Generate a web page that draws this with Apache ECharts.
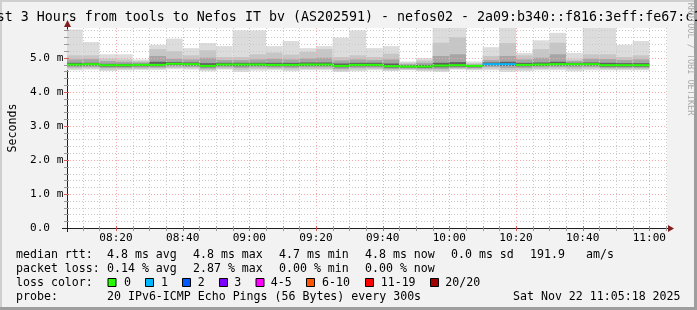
<!DOCTYPE html>
<html><head><meta charset="utf-8">
<script src="https://cdn.jsdelivr.net/npm/echarts@6/dist/echarts.min.js"></script>
<style>html,body{margin:0;padding:0;background:#f2f2f2}#c{width:697px;height:310px}</style>
</head><body><div id="c"></div>
<script>
// ---- data ----
const titleText = "Last 3 Hours from tools to Nefos IT bv (AS202591) - nefos02 - 2a09:b340::f816:3eff:fe67:c1";
const axisStart = "08:05:18", axisEnd = "11:05:18";
const slotEnds = ["08:10","08:15","08:20","08:25","08:30","08:35","08:40","08:45","08:50","08:55",
  "09:00","09:05","09:10","09:15","09:20","09:25","09:30","09:35","09:40","09:45",
  "09:50","09:55","10:00","10:05","10:10","10:15","10:20","10:25","10:30","10:35",
  "10:40","10:45","10:50","10:55","11:00"];
const maxV = [5.83,5.46,5.10,5.10,4.95,5.38,5.56,5.28,5.43,5.34,5.80,5.80,5.34,5.49,5.28,5.34,5.59,5.80,5.28,5.34,4.89,4.99,6.00,6.00,4.89,5.31,6.00,5.14,5.51,5.73,5.14,6.00,6.00,5.38,5.49];
const p18  = [5.07,5.07,4.97,4.95,4.90,5.25,5.19,5.07,5.22,5.02,5.02,5.10,5.15,5.09,5.17,5.25,5.02,5.07,5.02,5.12,4.85,4.92,5.44,5.60,4.84,5.05,5.43,5.07,5.25,5.44,4.95,5.10,5.10,5.02,5.07];
const p15  = [4.95,4.96,4.90,4.88,4.86,5.05,4.97,4.95,5.00,4.93,4.93,4.95,4.97,4.95,4.98,5.00,4.92,4.95,4.93,4.95,4.81,4.85,5.05,5.10,4.80,4.93,5.05,4.95,5.00,5.10,4.90,4.97,4.96,4.93,4.95];
const p12  = [4.85,4.85,4.82,4.82,4.82,4.88,4.87,4.86,4.84,4.85,4.85,4.85,4.85,4.85,4.86,4.86,4.83,4.85,4.85,4.83,4.78,4.79,4.85,4.87,4.78,4.86,4.88,4.85,4.86,4.88,4.85,4.86,4.85,4.84,4.84];
const medV = [4.80,4.81,4.78,4.78,4.79,4.79,4.82,4.81,4.76,4.80,4.80,4.80,4.79,4.79,4.80,4.80,4.76,4.79,4.79,4.75,4.74,4.74,4.77,4.78,4.76,4.81,4.81,4.79,4.80,4.81,4.81,4.81,4.78,4.78,4.78];
const p9   = [4.76,4.77,4.74,4.74,4.75,4.75,4.78,4.77,4.72,4.76,4.75,4.76,4.75,4.75,4.76,4.76,4.72,4.75,4.75,4.71,4.71,4.70,4.72,4.74,4.72,4.77,4.76,4.75,4.76,4.77,4.77,4.77,4.74,4.74,4.74];
const p6   = [4.72,4.73,4.70,4.70,4.71,4.71,4.74,4.73,4.68,4.72,4.70,4.72,4.71,4.70,4.72,4.72,4.67,4.70,4.71,4.67,4.68,4.67,4.67,4.70,4.69,4.73,4.70,4.70,4.72,4.73,4.72,4.73,4.70,4.70,4.70];
const p3   = [4.68,4.69,4.65,4.66,4.67,4.68,4.70,4.69,4.64,4.68,4.64,4.67,4.67,4.65,4.67,4.67,4.62,4.65,4.67,4.63,4.65,4.63,4.62,4.66,4.66,4.68,4.64,4.65,4.67,4.68,4.66,4.68,4.66,4.66,4.66];
const minV = [4.63,4.65,4.61,4.63,4.64,4.64,4.66,4.65,4.60,4.65,4.58,4.62,4.63,4.60,4.63,4.63,4.58,4.60,4.63,4.61,4.63,4.60,4.58,4.66,4.63,4.63,4.58,4.60,4.63,4.63,4.60,4.63,4.63,4.63,4.63];
const lossCount = [0,0,0,0,0,0,0,0,0,0,0,0,0,0,0,0,0,0,0,0,0,0,0,0,0,1,1,0,0,0,0,0,0,0,0];
const xTickLabels = ["08:20","08:40","09:00","09:20","09:40","10:00","10:20","10:40","11:00"];
const yTickValues = [0,1,2,3,4,5];
const yTickLabels = ["0.0","1.0 m","2.0 m","3.0 m","4.0 m","5.0 m"];
const lossNames  = ["0","1","2","3","4-5","6-10","11-19","20/20"];
const lossColors = ["#26ff00","#00b8ff","#0059ff","#7e00ff","#ff00ff","#ff5500","#ff0000","#a10000"];
const statLine1 = ["median rtt:","4.8 ms avg","4.8 ms max","4.7 ms min","4.8 ms now","0.0 ms sd","191.9","am/s"];
const statLine2 = ["packet loss:","0.14 % avg","2.87 % max","0.00 % min","0.00 % now"];
const lossLabel = "loss color:";
const probeLine = ["probe:","20 IPv6-ICMP Echo Pings (56 Bytes) every 300s","Sat Nov 22 11:05:18 2025"];
const yAxisName = "Seconds";
const watermark = "RRDTOOL / TOBI OETIKER";

// ---- layout / style ----
const MONO = '"DejaVu Sans Mono"';
const statX1 = [16,107,193,279,365,451,530,586];
const statX2 = [16,107,193,279,365];
const boxX = [108,145.5,182.5,219.5,256,306.5,365.5,430.5];
const boxLabelX = [124,161,197.7,234.3,270.7,322,380.7,445.3];
const probeX = [16,107,513];

function toMin(s){const p=s.split(':').map(Number);return p[0]*60+p[1]+(p[2]||0)/60;}
const xMin = toMin(axisStart), xMax = toMin(axisEnd);
const xTickMins = xTickLabels.map(toMin);
const slotData = slotEnds.map((t,i)=>{const e=toMin(t);return [e-5,e,maxV[i],p18[i],p15[i],p12[i],medV[i],p9[i],p6[i],p3[i],minV[i],lossCount[i]];});
function lossColor(n){ if(n<=0) return lossColors[0]; if(n<=1) return lossColors[1]; if(n<=2) return lossColors[2]; if(n<=3) return lossColors[3]; if(n<=5) return lossColors[4]; if(n<=10) return lossColors[5]; if(n<=19) return lossColors[6]; return lossColors[7]; }

// grid line positions
const vLines = [];
for (let m = Math.ceil(xMin/5)*5; m < xMax; m += 5) vLines.push([m, (m % 20 === 0) ? 1 : 0]);
const hLines = [];
for (let k = 1; k * 0.2 < 5.87; k++) { const v = +(k*0.2).toFixed(1); hLines.push([v, (k % 5 === 0) ? 1 : 0]); }

const bandDefs = [[2,10,'#dcdcdc'],[3,9,'#c6c6c6'],[4,8,'#a6a6a6'],[5,7,'#606060']];
const GRID_MINOR = '#cacaca', GRID_MAJOR = '#f2a8a8';

function renderSmoke(params, api){
  const cs = params.coordSys;
  const s = api.value(0), e = api.value(1);
  let x0 = api.coord([s,0])[0], x1 = api.coord([e,0])[0];
  x0 = Math.max(x0, cs.x); x1 = Math.min(x1, cs.x + cs.width);
  const Y = v => Math.max(cs.y, api.coord([s, v])[1]);
  const children = bandDefs.map(b => {
    const yt = Y(api.value(b[0])), yb = Y(api.value(b[1]));
    return {type:'rect', shape:{x:x0, y:yt, width:x1-x0, height:yb-yt}, style:{fill:b[2]}};
  });
  return {type:'group', children};
}
function renderMedian(params, api){
  const cs = params.coordSys;
  const s = api.value(0), e = api.value(1);
  let x0 = api.coord([s,0])[0], x1 = api.coord([e,0])[0];
  x0 = Math.max(x0, cs.x); x1 = Math.min(x1, cs.x + cs.width);
  const ym = api.coord([s, api.value(6)])[1];
  return {type:'rect', shape:{x:x0, y:ym-1, width:x1-x0, height:2}, style:{fill:lossColor(api.value(11))}};
}
function renderV(params, api){
  const cs = params.coordSys;
  const x = Math.round(api.coord([api.value(0),0])[0]) + 0.5;
  const major = api.value(1) === 1;
  const b = cs.y + cs.height;
  return {type:'group', children:[
    {type:'line', shape:{x1:x,y1:cs.y,x2:x,y2:b}, style:{stroke: major?GRID_MAJOR:GRID_MINOR, lineWidth:1, lineDash:[1,2]}},
    {type:'line', shape:{x1:x,y1:b-2,x2:x,y2:b+3}, style:{stroke: major?'#d45a5a':'#999', lineWidth:1}}
  ]};
}
function renderH(params, api){
  const cs = params.coordSys;
  const y = Math.round(api.coord([xMin, api.value(0)])[1]) + 0.5;
  const major = api.value(1) === 1;
  return {type:'group', children:[
    {type:'line', shape:{x1:cs.x,y1:y,x2:cs.x+cs.width,y2:y}, style:{stroke: major?GRID_MAJOR:GRID_MINOR, lineWidth:1, lineDash:[1,2]}},
    {type:'line', shape:{x1:cs.x-3,y1:y,x2:cs.x+2,y2:y}, style:{stroke: major?'#d45a5a':'#999', lineWidth:1}}
  ]};
}

const graphics = [];
graphics.push({type:'rect', shape:{x:0,y:0,width:697,height:2}, style:{fill:'#cfcfcf'}, silent:true});
graphics.push({type:'rect', shape:{x:0,y:0,width:2,height:310}, style:{fill:'#cfcfcf'}, silent:true});
graphics.push({type:'rect', shape:{x:0,y:307,width:697,height:3}, style:{fill:'#9e9e9e'}, silent:true});
graphics.push({type:'rect', shape:{x:694,y:0,width:3,height:310}, style:{fill:'#9e9e9e'}, silent:true});
graphics.push({type:'text', x:-19.3, y:18, style:{text:titleText, font:'13.3px '+MONO, fill:'#000', verticalAlign:'middle', align:'left'}});
graphics.push({type:'text', x:690, y:59, rotation:-Math.PI/2, style:{text:watermark, font:'8.5px '+MONO, fill:'#aaaaaa', verticalAlign:'middle', align:'center'}});
graphics.push({type:'line', shape:{x1:62,y1:228.5,x2:670,y2:228.5}, style:{stroke:'#1f1f1f', lineWidth:1}});
graphics.push({type:'line', shape:{x1:67.5,y1:232,x2:67.5,y2:24}, style:{stroke:'#1f1f1f', lineWidth:1}});
graphics.push({type:'polygon', shape:{points:[[668,225],[674,228.5],[668,232]]}, style:{fill:'#801f1f'}});
graphics.push({type:'polygon', shape:{points:[[64,27],[67.5,20],[71,27]]}, style:{fill:'#801f1f'}});
const F = '11.6px ' + MONO;
statLine1.forEach((t,i)=>graphics.push({type:'text', x:statX1[i], y:254.5, style:{text:t, font:F, fill:'#000', verticalAlign:'middle'}}));
statLine2.forEach((t,i)=>graphics.push({type:'text', x:statX2[i], y:268.5, style:{text:t, font:F, fill:'#000', verticalAlign:'middle'}}));
graphics.push({type:'text', x:16, y:282.5, style:{text:lossLabel, font:F, fill:'#000', verticalAlign:'middle'}});
lossNames.forEach((t,i)=>{
  graphics.push({type:'rect', shape:{x:boxX[i], y:278.5, width:8, height:8}, style:{fill:lossColors[i], stroke:'#000', lineWidth:1}});
  graphics.push({type:'text', x:boxLabelX[i], y:282.5, style:{text:t, font:F, fill:'#000', verticalAlign:'middle'}});
});
probeLine.forEach((t,i)=>graphics.push({type:'text', x:probeX[i], y:296.5, style:{text:t, font:F, fill:'#000', verticalAlign:'middle'}}));

const chart = echarts.init(document.getElementById('c'), null, {renderer:'canvas'});
chart.setOption({
  backgroundColor:'#f2f2f2',
  animation:false,
  grid:{left:67, top:28, width:600, height:200, show:true, backgroundColor:'#ffffff', borderWidth:0, containLabel:false, outerBoundsMode:'none'},
  xAxis:{type:'value', min:xMin, max:xMax,
    axisLine:{show:false}, axisTick:{show:false}, splitLine:{show:false},
    axisLabel:{customValues:xTickMins, formatter:(v)=>{const i=xTickMins.findIndex(m=>Math.abs(m-v)<1e-6);return i>=0?xTickLabels[i]:'';},
      fontFamily:'DejaVu Sans Mono', fontSize:11.1, color:'#000', margin:5}},
  yAxis:{type:'value', min:0, max:5.872,
    name:yAxisName, nameLocation:'middle', nameGap:47, nameRotate:90,
    nameTextStyle:{fontFamily:'DejaVu Sans Mono', fontSize:11.6, color:'#000'},
    axisLine:{show:false}, axisTick:{show:false}, splitLine:{show:false},
    axisLabel:{customValues:yTickValues, formatter:(v)=>{const i=yTickValues.findIndex(m=>Math.abs(m-v)<1e-6);return i>=0?yTickLabels[i]:'';},
      align:'left', margin:37, fontFamily:'DejaVu Sans Mono', fontSize:11.1, color:'#000'}},
  series:[
    {type:'custom', name:'smoke', renderItem:renderSmoke, data:slotData, encode:{x:[0,1], y:[2,10]}, z:1, silent:true},
    {type:'custom', name:'vgrid', renderItem:renderV, data:vLines, encode:{x:0}, z:2, silent:true},
    {type:'custom', name:'hgrid', renderItem:renderH, data:hLines, encode:{y:0}, z:2, silent:true},
    {type:'custom', name:'median', renderItem:renderMedian, data:slotData, encode:{x:[0,1], y:6}, z:3, silent:true}
  ],
  graphic:graphics
});
</script>
</body></html>
